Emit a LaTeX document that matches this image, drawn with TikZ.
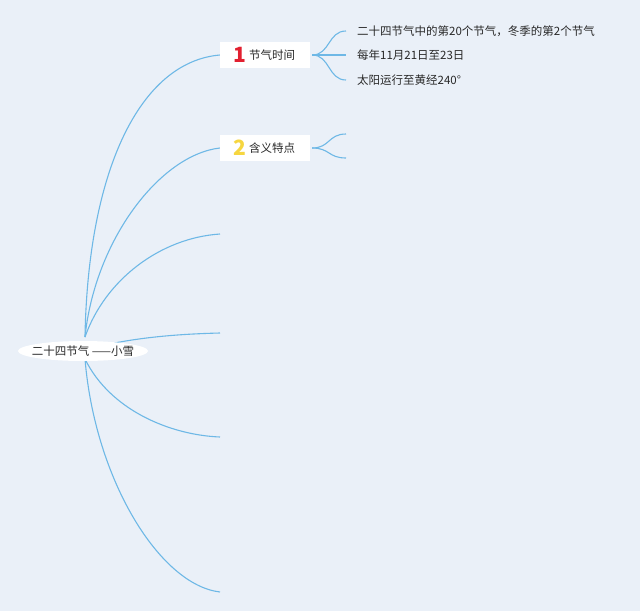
\documentclass[tikz,border=0pt]{standalone}
\usepackage{fontspec}
\setmainfont{Noto Sans CJK SC}
\usetikzlibrary{shapes.geometric}
\definecolor{bgc}{RGB}{234,240,248}
\definecolor{linec}{RGB}{110,184,230}
\definecolor{numred}{RGB}{226,32,48}
\definecolor{numyel}{RGB}{246,214,64}
\definecolor{txt}{RGB}{40,40,40}
\tikzset{
  branch/.style={draw=linec, line width=1.1pt},
  topicbox/.style={fill=white, minimum width=90pt, minimum height=26pt, inner sep=0pt, font=\fontsize{11.5}{13}\selectfont, text=txt},
  leaf/.style={anchor=west, inner sep=0pt, font=\fontsize{11.5}{13}\selectfont, text=txt},
  num/.style={font=\fontsize{21}{22}\selectfont\bfseries}
}
\begin{document}
\begin{tikzpicture}[x=1pt,y=-1pt]
\fill[bgc] (0,0) rectangle (640,611);
\useasboundingbox (0,0) rectangle (640,611);

% coordinates of branch origins and free ends
\coordinate (o1) at (85,337);
\coordinate (o4) at (100,346);
\coordinate (o5) at (85,359);
\coordinate (e3) at (220,234);
\coordinate (e4) at (220,333);
\coordinate (e5) at (220,437);
\coordinate (e6) at (220,592);
\coordinate (s1) at (346,134);
\coordinate (s2) at (346,158);

% topic boxes
\node[topicbox] (n1) at (265,55) {\hspace*{14pt}节气时间};
\node[num, text=numred] (k1) at (240,55) {1};
\node[topicbox] (n2) at (265,148) {\hspace*{14pt}含义特点};
\node[num, text=numyel] (k2) at (240,148) {2};

% leaves
\node[leaf] (l1) at (357,31) {二十四节气中的第20个节气，冬季的第2个节气};
\node[leaf] (l2) at (357,55) {每年11月21日至23日};
\node[leaf] (l3) at (357,80) {太阳运行至黄经240°};

% main branches
\draw[branch] (o1) .. controls (88,170) and (140,62) .. (n1.west);
\draw[branch] (o1) .. controls (95,240) and (160,155) .. (n2.west);
\draw[branch] (o1) .. controls (105,280) and (160,238) .. (e3);
\draw[branch] (o4) .. controls (140,337) and (180,334) .. (e4);
\draw[branch] (o5) .. controls (110,410) and (170,435) .. (e5);
\draw[branch] (o5) .. controls (95,480) and (160,585) .. (e6);

% central node
\node[ellipse, fill=white, minimum width=130pt, minimum height=20pt, inner xsep=-6pt, inner ysep=0pt, font=\fontsize{11.5}{13}\selectfont, text=txt] (c) at (83,351) {二十四节气 ——小雪};

% sub branches
\coordinate (n1r) at ([xshift=2pt]n1.east);
\draw[branch] (n1r) .. controls (330,55) and (328,31) .. ([xshift=-11pt]l1.west);
\draw[branch] (n1r) -- ([xshift=-11pt]l2.west);
\draw[branch] (n1r) .. controls (330,55) and (328,80) .. ([xshift=-11pt]l3.west);
\coordinate (n2r) at ([xshift=2pt]n2.east);
\draw[branch] (n2r) .. controls (330,148) and (328,134) .. (s1);
\draw[branch] (n2r) .. controls (330,148) and (328,158) .. (s2);
\end{tikzpicture}
\end{document}
